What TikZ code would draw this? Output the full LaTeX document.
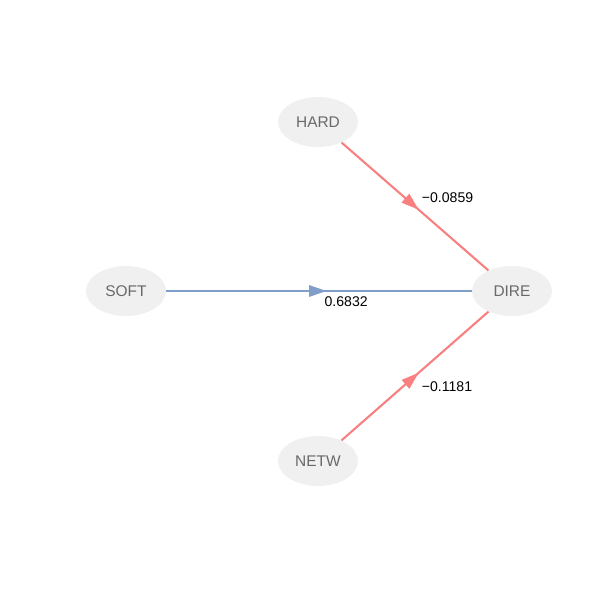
\documentclass[tikz,border=0pt]{standalone}
\usepackage{fontspec}
\setmainfont{Liberation Sans}
\usepackage{tikz}
\usetikzlibrary{shapes.geometric, arrows.meta, decorations.markings}
\definecolor{nodefill}{RGB}{240,240,240}
\definecolor{nodetext}{RGB}{105,105,105}
\definecolor{negred}{RGB}{248,128,128}
\definecolor{posblue}{RGB}{128,158,200}
\tikzset{
  latent/.style={ellipse, fill=nodefill, draw=none,
    minimum width=2cm, minimum height=1.25cm, inner sep=0pt,
    font=\fontsize{11}{13}\selectfont, text=nodetext},
  path/.style={line width=1.5pt,
    postaction={decorate, decoration={markings,
      mark=at position 0.525 with {\arrow{Triangle[length=12.5pt, width=8pt]}}}}},
  negpath/.style={path, color=negred},
  pospath/.style={path, color=posblue},
  coef/.style={inner sep=0pt, text=black, font=\fontsize{10}{12}\selectfont}
}
\begin{document}
\begin{tikzpicture}[x=0.025cm, y=-0.025cm]
  \useasboundingbox (0,0) rectangle (600,600);

  % latent variables
  \node[latent] (hard) at (318,122) {HARD};
  \node[latent] (soft) at (126,291) {SOFT};
  \node[latent] (dire) at (512,291) {DIRE};
  \node[latent] (netw) at (318,461) {NETW};

  % path coefficients
  \draw[negpath] (hard) -- (dire)
    node[coef, pos=0.54, anchor=west, yshift=10pt] (chard) {−0.0859};
  \draw[pospath] (soft) -- (dire)
    node[coef, pos=0.515, anchor=west, yshift=-7.8pt] (csoft) {0.6832};
  \draw[negpath] (netw) -- (dire)
    node[coef, pos=0.54, anchor=west, yshift=-11.4pt] (cnetw) {−0.1181};
\end{tikzpicture}
\end{document}
